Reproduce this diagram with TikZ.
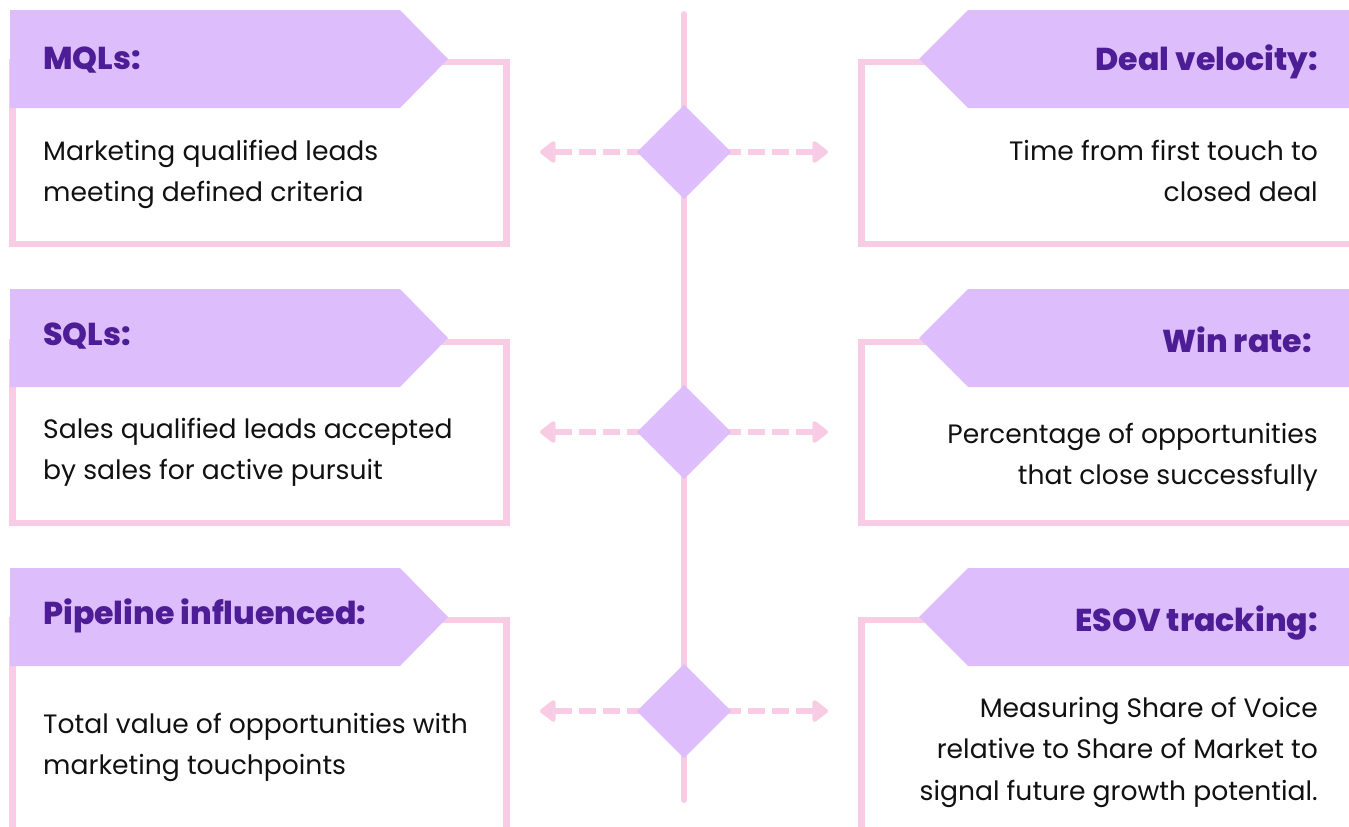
\documentclass[tikz,border=0pt]{standalone}
\usepackage{fontspec}
\setmainfont{Poppins}
\newfontfamily\headfont{Poppins ExtraBold}
\usetikzlibrary{arrows.meta,calc}

\definecolor{bannerfill}{HTML}{DEBDFD}
\definecolor{framepink}{HTML}{F9CCE6}
\definecolor{titlepurple}{HTML}{4C1D95}
\definecolor{bodytext}{HTML}{111111}

\tikzset{
  framebox/.style={draw=framepink, line width=6.5pt},
  banner/.style={fill=bannerfill},
  spine/.style={draw=framepink, line width=6pt, line cap=round},
  hub/.style={fill=bannerfill},
  dasharrow/.style={draw=framepink, line width=6pt,
    dash pattern=on 17pt off 7pt, dash phase=8pt,
    -{Triangle[round, length=17pt, width=25pt]}},
  titletext/.style={inner sep=0pt, text=titlepurple,
    font=\fontsize{31.6}{36}\selectfont\headfont},
  bodyleft/.style={inner sep=0pt, anchor=base west, text=bodytext},
  bodyright/.style={inner sep=0pt, anchor=base east, text=bodytext},
}
\newcommand{\bodylines}[2]{{\fontsize{26.6}{41.5}\selectfont\begin{tabular}[t]{@{}#1@{}}#2\end{tabular}}}

\begin{document}
\begin{tikzpicture}[x=1pt, y=-1pt]
\useasboundingbox (0,0) rectangle (1349,827);

% ---- card frames ----
\draw[framebox] (12.5,62) rectangle (506.5,244);
\draw[framebox] (12.5,342) rectangle (506.5,523);
\draw[framebox] (506.5,840) -- (506.5,620) -- (12.5,620) -- (12.5,840);
\draw[framebox] (1360,62) -- (861.5,62) -- (861.5,244) -- (1360,244);
\draw[framebox] (1360,342) -- (861.5,342) -- (861.5,523) -- (1360,523);
\draw[framebox] (1360,620) -- (861.5,620) -- (861.5,840);

% ---- title banners ----
\fill[banner] (10,10) -- (400,10) -- (448,59) -- (400,108) -- (10,108) -- cycle;
\fill[banner] (10,289) -- (400,289) -- (448,338) -- (400,387) -- (10,387) -- cycle;
\fill[banner] (10,568) -- (400,568) -- (448,617) -- (400,666) -- (10,666) -- cycle;
\fill[banner] (1349,10) -- (968,10) -- (919,59) -- (968,108) -- (1349,108) -- cycle;
\fill[banner] (1349,289) -- (968,289) -- (919,338) -- (968,387) -- (1349,387) -- cycle;
\fill[banner] (1349,568) -- (968,568) -- (919,617) -- (968,666) -- (1349,666) -- cycle;

% ---- central spine with hubs ----
\coordinate (top) at (684,14);
\coordinate (bottom) at (684,800);
\draw[spine] (top) -- (bottom);

\coordinate (h1) at (684,152);
\coordinate (h2) at (684,432);
\coordinate (h3) at (684,711);
\coordinate (h1l) at (540,152);  \coordinate (h1r) at (828,152);
\coordinate (h2l) at (540,432);  \coordinate (h2r) at (828,432);
\coordinate (h3l) at (540,711);  \coordinate (h3r) at (828,711);

\foreach \h in {h1,h2,h3}{
  \draw[dasharrow] (\h) -- (\h l);
  \draw[dasharrow] (\h) -- (\h r);
  \fill[hub] ($(\h)+(0,-47)$) -- ($(\h)+(47,0)$) -- ($(\h)+(0,47)$) -- ($(\h)+(-47,0)$) -- cycle;
}

% ---- left column ----
\node[titletext, anchor=base west] (t1) at (43,69) {MQLs:};
\node[bodyleft] (b1) at (43,160) {\bodylines{l}{Marketing qualified leads\\meeting defined criteria}};

\node[titletext, anchor=base west] (t2) at (43,345) {SQLs:};
\node[bodyleft] (b2) at (43,438) {\bodylines{l}{Sales qualified leads accepted\\by sales for active pursuit}};

\node[titletext, anchor=base west] (t3) at (43,624) {Pipeline influenced:};
\node[bodyleft] (b3) at (43,733) {\bodylines{l}{Total value of opportunities with\\marketing touchpoints}};

% ---- right column ----
\node[titletext, anchor=base east] (t4) at (1318,70) {Deal velocity:};
\node[bodyright] (b4) at (1318,160) {\bodylines{r}{Time from first touch to\\closed deal}};

\node[titletext, anchor=base east] (t5) at (1312,352) {Win rate:};
\node[bodyright] (b5) at (1318,443) {\bodylines{r}{Percentage of opportunities\\that close successfully}};

\node[titletext, anchor=base east] (t6) at (1318,631) {ESOV tracking:};
\node[bodyright] (b6) at (1318,717) {\bodylines{r}{Measuring Share of Voice\\relative to Share of Market to\\signal future growth potential.}};
\end{tikzpicture}
\end{document}
